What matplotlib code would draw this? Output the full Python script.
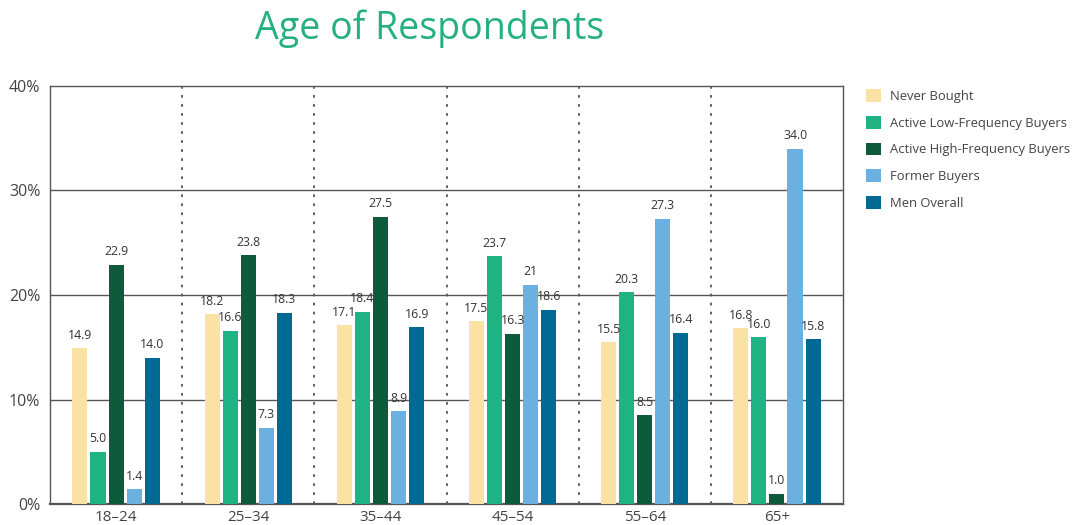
import numpy as np
import matplotlib.pyplot as plt

#%% Data
age_groups = ['18–24', '25–34', '35–44', '45–54', '55–64', '65+']
series     = ['Never Bought', 'Active Low-Frequency Buyers', 'Active High-Frequency Buyers',
              'Former Buyers', 'Men Overall']
never_bought = [14.9, 18.2, 17.1, 17.5, 15.5, 16.8]
active_low   = [5.0, 16.6, 18.4, 23.7, 20.3, 16.0]
active_high  = [22.9, 23.8, 27.5, 16.3, 8.5, 1.0]
former       = [1.4, 7.3, 8.9, 21.0, 27.3, 34.0]
men_overall  = [14.0, 18.3, 16.9, 18.6, 16.4, 15.8]
bar_labels = [
    ['14.9', '18.2', '17.1', '17.5', '15.5', '16.8'],
    ['5.0', '16.6', '18.4', '23.7', '20.3', '16.0'],
    ['22.9', '23.8', '27.5', '16.3', '8.5', '1.0'],
    ['1.4', '7.3', '8.9', '21', '27.3', '34.0'],
    ['14.0', '18.3', '16.9', '18.6', '16.4', '15.8'],
]
yticks      = [0, 10, 20, 30, 40]
ytick_names = ['0%', '10%', '20%', '30%', '40%']

colours = ['#f9e2a4', '#1fb283', '#0e5b3b', '#6ab1e2', '#006a94']

#%% Plot
plt.rcParams['font.family'] = ['Open Sans', 'DejaVu Sans']
fig = plt.figure(figsize=(10.84, 5.25), dpi=100)
ax  = fig.add_axes([50/1084, 21/525, 793/1084, 418/525])

values = [never_bought, active_low, active_high, former, men_overall]
x      = np.arange(len(age_groups))
width  = 0.114
step   = 0.137

for k, (vals, name, col) in enumerate(zip(values, series, colours)):
    xpos = x + (k - 2) * step
    ax.bar(xpos, vals, width=width, color=col, label=name, zorder=3)
    for xi, v, lab in zip(xpos, vals, bar_labels[k]):
        ax.text(xi, v + 0.6, lab, ha='center', va='bottom', fontsize=8.8,
                color='#333333', zorder=4)

ax.set_xlim(-0.5, len(age_groups) - 0.5)
ax.set_ylim(0, 40)
ax.set_yticks(yticks)
ax.set_yticklabels(ytick_names, fontsize=11.5, color='#444444')
ax.set_xticks(x)
ax.set_xticklabels(age_groups, fontsize=11, color='#444444')
ax.tick_params(length=0)
ax.tick_params(axis='x', pad=4)
ax.tick_params(axis='y', pad=7)

for yv in yticks[1:-1]:
    ax.axhline(yv, color='#555555', lw=1.0, zorder=1)
for xv in x[:-1] + 0.5:
    ax.axvline(xv, color='#555555', lw=1.3, ls=(0, (1.5, 3.5)), zorder=1)

for s in ax.spines.values():
    s.set_color('#555555')
    s.set_linewidth(1.0)
ax.spines['bottom'].set_linewidth(1.6)

fig.text(430/1084, 1 - 29/525, 'Age of Respondents', ha='center', va='center',
         fontsize=27, color='#24b07f')

leg = ax.legend(loc='upper left', bbox_to_anchor=(1.022, 1.005), frameon=False,
                fontsize=9.4, handlelength=1.15, handleheight=1.15,
                labelspacing=0.98, handletextpad=0.75, borderaxespad=0.0)
for t in leg.get_texts():
    t.set_color('#444444')

fig.savefig('out.png', dpi=100)
